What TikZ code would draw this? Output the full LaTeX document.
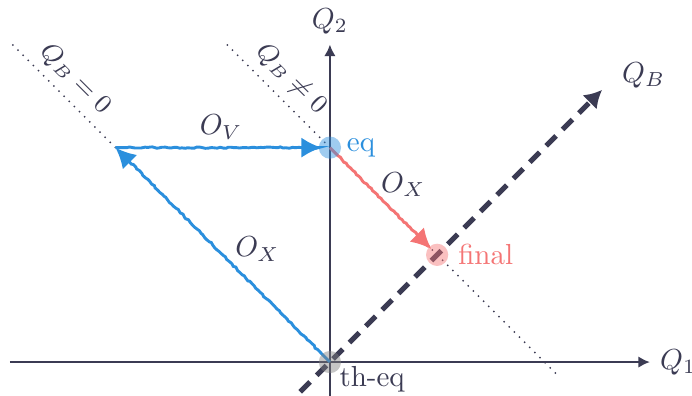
\documentclass[tikz,border=0pt]{standalone}
\usepackage{amsmath, amssymb}
\usetikzlibrary{arrows.meta, decorations.pathmorphing}
\definecolor{axisdark}{HTML}{3B3B53}
\definecolor{eqblue}{HTML}{2B8FDD}
\definecolor{finred}{HTML}{F47474}
\tikzset{
    pencil/.style={line width=1pt, decorate,
        decoration={random steps, segment length=1pt, amplitude=0.25pt, pre length=4pt, post length=4pt}},
    dotmark/.style={circle, inner sep=0pt, minimum size=0.27cm, fill opacity=0.45}
}

\begin{document}
\begin{tikzpicture}[>=Latex, font=\normalsize]
    \useasboundingbox (-4.00,-0.41) rectangle (4.39,4.39);
    % 坐标
    \coordinate (O) at (0,0);
    \coordinate (eq) at (0,2.6);
    \coordinate (fin) at (1.3,1.3);
    \coordinate (V) at (-2.6,2.6);
    \coordinate (xL) at (-3.88,0);
    \coordinate (xR) at (3.88,0);
    \coordinate (yB) at (0,-0.41);
    \coordinate (yT) at (0,3.85);
    \coordinate (bL) at (-0.36,-0.36);
    \coordinate (bT) at (3.30,3.30);
    \coordinate (zA) at (-3.85,3.85);
    \coordinate (nA) at (-1.25,3.85);
    \coordinate (nB) at (2.77,-0.17);
    % 虚线
    \draw[dotted, axisdark, line width=0.5pt] (zA) -- (V);
    \draw[dotted, axisdark, line width=0.5pt] (nA) -- (nB);
    \node[rotate=-45, text=axisdark, font=\small] (lz) at (-3.09,3.43) {\(Q_B=0\)};
    \node[rotate=-45, text=axisdark, font=\small] (ln) at (-0.47,3.43) {\(Q_B\neq0\)};
    % 轴
    \draw[->, axisdark, line width=0.9pt, >={Latex[length=4pt,width=4pt]}] (xL) -- (xR);
    \draw[->, axisdark, line width=0.9pt, >={Latex[length=4pt,width=4pt]}] (yB) -- (yT);
    \draw[->, axisdark, line width=1.8pt, dash pattern=on 4.8pt off 3.2pt, >={Latex[length=6pt,width=7pt]}] (bL) -- (bT);
    \node[anchor=west, text=axisdark] (q1) at (xR) {\(Q_1\)};
    \node[anchor=south, text=axisdark] (q2) at (yT) {\(Q_2\)};
    \node[anchor=south west, text=axisdark] (qb) at (3.42,3.2) {\(Q_B\)};
    % 箭头
    \draw[pencil, eqblue, -{Latex[length=7pt,width=7pt]}] (O) -- (V);
    \draw[pencil, eqblue, -{Latex[length=7pt,width=7pt]}, shorten >=0.1cm] (V) -- (eq);
    \draw[pencil, finred, -{Latex[length=7pt,width=7pt]}, shorten >=0.1cm] (eq) -- (fin);
    \node[text=axisdark] (ov) at (-1.32,2.85) {\(O_V\)};
    \node[text=axisdark] (oxa) at (-0.88,1.37) {\(O_X\)};
    \node[text=axisdark] (oxb) at (0.89,2.15) {\(O_X\)};
    % 点
    \node[dotmark, fill=gray] (theq) at (O) {};
    \node[dotmark, fill=eqblue] (eqdot) at (eq) {};
    \node[dotmark, fill=finred] (findot) at (fin) {};
    \node[anchor=west, inner sep=0pt, text=eqblue] (eqlab) at (0.2,2.6) {eq};
    \node[anchor=west, inner sep=0pt, text=finred] (finlab) at (1.55,1.3) {final};
    \node[anchor=north west, inner sep=0pt, text=axisdark] (theqlab) at (0.11,-0.05) {th-eq};
\end{tikzpicture}
\end{document}
